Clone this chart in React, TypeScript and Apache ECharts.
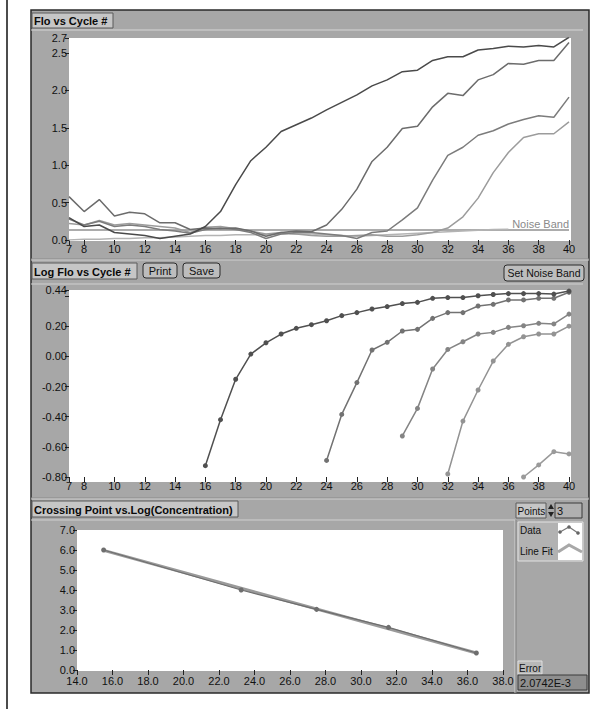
import React, { useEffect, useRef } from 'react';
import * as echarts from 'echarts';

// ---------- DATA ----------
const cycles = [7, 8, 9, 10, 11, 12, 13, 14, 15, 16, 17, 18, 19, 20, 21, 22, 23, 24, 25, 26, 27, 28, 29, 30, 31, 32, 33, 34, 35, 36, 37, 38, 39, 40];
const cycleTicks = [7, 8, 10, 12, 14, 16, 18, 20, 22, 24, 26, 28, 30, 32, 34, 36, 38, 40];
const floTicks = [0, 0.5, 1.0, 1.5, 2.0, 2.5, 2.7];
const logTicks = [-0.8, -0.6, -0.4, -0.2, 0, 0.2, 0.4, 0.44];
const logTickLabels = [-0.8, -0.6, -0.4, -0.2, 0, 0.2, 0.44];

const floA = [0.30, 0.18, 0.20, 0.10, 0.08, 0.06, 0.02, 0.05, 0.08, 0.18, 0.38, 0.74, 1.06, 1.24, 1.45, 1.54, 1.63, 1.74, 1.84, 1.94, 2.06, 2.14, 2.25, 2.27, 2.40, 2.45, 2.45, 2.54, 2.56, 2.59, 2.58, 2.60, 2.58, 2.71];
const floB = [0.58, 0.38, 0.54, 0.32, 0.37, 0.35, 0.23, 0.23, 0.14, 0.16, 0.15, 0.16, 0.12, 0.05, 0.10, 0.12, 0.11, 0.20, 0.41, 0.68, 1.05, 1.24, 1.49, 1.52, 1.78, 1.96, 1.93, 2.14, 2.21, 2.36, 2.35, 2.40, 2.40, 2.64];
const floC = [0.28, 0.20, 0.25, 0.18, 0.20, 0.18, 0.14, 0.12, 0.09, 0.14, 0.16, 0.14, 0.10, 0.02, 0.08, 0.10, 0.10, 0.08, 0.06, 0.02, 0.10, 0.12, 0.27, 0.43, 0.80, 1.13, 1.24, 1.40, 1.46, 1.55, 1.61, 1.66, 1.64, 1.91];
const floD = [0.22, 0.20, 0.26, 0.20, 0.22, 0.20, 0.18, 0.16, 0.10, 0.17, 0.18, 0.15, 0.12, 0.08, 0.10, 0.08, 0.06, 0.05, 0.05, 0.06, 0.07, 0.05, 0.05, 0.07, 0.10, 0.16, 0.31, 0.56, 0.90, 1.17, 1.37, 1.42, 1.42, 1.58];
const floE = [0.00, 0.01, 0.01, 0.02, 0.02, 0.03, 0.03, 0.04, 0.05, 0.06, 0.06, 0.07, 0.07, 0.07, 0.08, 0.08, 0.08, 0.07, 0.06, 0.05, 0.06, 0.07, 0.08, 0.09, 0.10, 0.11, 0.12, 0.13, 0.14, 0.145, null, null, null, null];
const noiseBand = 0.145;

const log1Start = 16;
const log1 = [-0.725, -0.42, -0.152, 0.015, 0.09, 0.148, 0.186, 0.21, 0.236, 0.27, 0.29, 0.314, 0.33, 0.35, 0.358, 0.385, 0.39, 0.39, 0.402, 0.41, 0.416, 0.416, 0.416, 0.413, 0.433];
const log2Start = 24;
const log2 = [-0.69, -0.385, -0.174, 0.042, 0.093, 0.168, 0.179, 0.252, 0.29, 0.29, 0.334, 0.345, 0.374, 0.374, 0.385, 0.385, 0.425];
const log3Start = 29;
const log3 = [-0.528, -0.345, -0.084, 0.046, 0.097, 0.148, 0.159, 0.192, 0.203, 0.219, 0.215, 0.28];
const log4Start = 32;
const log4 = [-0.78, -0.429, -0.223, -0.031, 0.08, 0.13, 0.148, 0.148, 0.2];
const log5Start = 37;
const log5 = [-0.80, -0.72, -0.632, -0.647];

const crossPoints = [15.5, 23.25, 27.5, 31.55, 36.5];
const logConc = [6.0, 4.0, 3.03, 2.13, 0.85];
const fitX = [15.5, 36.5];
const fitY = [5.98, 0.85];

const errorValue = '2.0742E-3';
const pointsValue = '3';

// ---------- CHART ----------
const FONT = '"Liberation Sans", Arial, sans-serif';

function pairs(start: number, vals: number[]) {
  return vals.map((v, i) => [start + i, v]);
}

function btn(x: number, y: number, w: number, h: number, label: string, size = 11, r = 3) {
  return [
    { type: 'rect', z: -50, shape: { x, y, width: w, height: h, r }, style: { fill: '#bdbdbd', stroke: '#2a2a2a', lineWidth: 1 } },
    { type: 'text', z: -40, x: x + w / 2, y: y + h / 2, style: { text: label, fill: '#111', font: `${size}px ${FONT}`, align: 'center', verticalAlign: 'middle' } },
  ];
}

function titleBox(x: number, y: number, w: number, h: number, label: string) {
  return [
    { type: 'rect', z: -50, shape: { x, y, width: w, height: h }, style: { fill: '#c6c6c6', stroke: '#5a5a5a', lineWidth: 1 } },
    { type: 'text', z: -40, x: x + 2, y: y + h / 2 + 0.5, style: { text: label, fill: '#0a0a0a', font: `bold 11px ${FONT}`, verticalAlign: 'middle' } },
  ];
}

export default function App() {
  const ref = useRef<HTMLDivElement>(null);
  useEffect(() => {
    if (!ref.current) return;
    const chart = echarts.init(ref.current, undefined, { renderer: 'svg' });

    const axisLabelBase = { color: '#111', fontSize: 11, fontFamily: FONT };
    const tick = { show: true, inside: false, length: 4, lineStyle: { color: '#222', width: 1 } };

    const cycleAxis = (gridIndex: number) => ({
      type: 'value', gridIndex, min: 7, max: 40,
      axisLine: { show: false, onZero: false },
      axisTick: { ...tick, length: 5, customValues: cycleTicks },
      splitLine: { show: false },
      axisLabel: { ...axisLabelBase, margin: 3, customValues: cycleTicks, formatter: (v: number) => String(v) },
    });

    const graphic: any[] = [
      { type: 'line', z: -100, shape: { x1: 7, y1: 0, x2: 7, y2: 709 }, style: { stroke: '#111', lineWidth: 1.5 } },
      { type: 'rect', z: -100, shape: { x: 31, y: 10, width: 558, height: 683 }, style: { fill: '#a7a7a7', stroke: '#2a2a2a', lineWidth: 1.5 } },
      { type: 'line', z: -95, shape: { x1: 31, y1: 30, x2: 583, y2: 30 }, style: { stroke: '#d6d6d6', lineWidth: 1 } },
      { type: 'line', z: -95, shape: { x1: 31, y1: 259, x2: 589, y2: 259 }, style: { stroke: '#8a8a8a', lineWidth: 1 } },
      { type: 'line', z: -95, shape: { x1: 31, y1: 260, x2: 589, y2: 260 }, style: { stroke: '#d0d0d0', lineWidth: 1 } },
      { type: 'line', z: -95, shape: { x1: 31, y1: 284, x2: 583, y2: 284 }, style: { stroke: '#d0d0d0', lineWidth: 1 } },
      { type: 'line', z: -95, shape: { x1: 31, y1: 498, x2: 589, y2: 498 }, style: { stroke: '#8a8a8a', lineWidth: 1 } },
      { type: 'line', z: -95, shape: { x1: 31, y1: 499, x2: 589, y2: 499 }, style: { stroke: '#d0d0d0', lineWidth: 1 } },
      { type: 'line', z: -95, shape: { x1: 31, y1: 520, x2: 515, y2: 520 }, style: { stroke: '#d0d0d0', lineWidth: 1 } },
      { type: 'line', z: -95, shape: { x1: 515, y1: 520, x2: 515, y2: 693 }, style: { stroke: '#d0d0d0', lineWidth: 1 } },
      { type: 'line', z: -95, shape: { x1: 516, y1: 520, x2: 516, y2: 693 }, style: { stroke: '#808080', lineWidth: 1 } },
      // plot areas
      { type: 'rect', z: -90, shape: { x: 69, y: 38, width: 502, height: 203 }, style: { fill: '#ffffff' } },
      { type: 'rect', z: -90, shape: { x: 69, y: 290, width: 502, height: 192 }, style: { fill: '#ffffff' } },
      { type: 'rect', z: -90, shape: { x: 77, y: 530, width: 426, height: 141 }, style: { fill: '#ffffff' } },
      ...titleBox(32, 13, 81, 15, 'Flo vs Cycle #'),
      ...titleBox(32, 263, 105, 16, 'Log Flo vs Cycle #'),
      ...titleBox(32, 501, 206, 16, 'Crossing Point vs.Log(Concentration)'),
      ...btn(143, 263, 34, 15, 'Print'),
      ...btn(183, 263, 37, 15, 'Save'),
      ...btn(504, 265, 80, 16, 'Set Noise Band', 10.5),
      // Points control
      { type: 'rect', z: -50, shape: { x: 516, y: 503, width: 30, height: 15 }, style: { fill: '#c6c6c6', stroke: '#5a5a5a', lineWidth: 1 } },
      { type: 'text', z: -40, x: 517.5, y: 511, style: { text: 'Points', fill: '#111', font: `10px ${FONT}`, verticalAlign: 'middle' } },
      { type: 'polygon', z: -40, shape: { points: [[548, 509], [551, 504], [554, 509]] }, style: { fill: '#222' } },
      { type: 'polygon', z: -40, shape: { points: [[548, 512], [551, 517], [554, 512]] }, style: { fill: '#222' } },
      { type: 'rect', z: -50, shape: { x: 555, y: 503, width: 27, height: 15 }, style: { fill: '#b0b0b0', stroke: '#3a3a3a', lineWidth: 1 } },
      { type: 'text', z: -40, x: 557, y: 511, style: { text: pointsValue, fill: '#111', font: `11px ${FONT}`, verticalAlign: 'middle' } },
      // legend
      { type: 'rect', z: -50, shape: { x: 518, y: 522, width: 65, height: 39 }, style: { fill: '#b2b2b2', stroke: '#e2e2e2', lineWidth: 1 } },
      { type: 'text', z: -40, x: 520, y: 530, style: { text: 'Data', fill: '#111', font: `10px ${FONT}`, verticalAlign: 'middle' } },
      { type: 'text', z: -40, x: 520, y: 551, style: { text: 'Line Fit', fill: '#111', font: `10px ${FONT}`, verticalAlign: 'middle' } },
      { type: 'rect', z: -45, shape: { x: 558, y: 523, width: 24, height: 37 }, style: { fill: '#ffffff' } },
      { type: 'polyline', z: -40, shape: { points: [[560, 532], [569, 527], [578, 533]] }, style: { stroke: '#777', lineWidth: 1.2, fill: null } },
      { type: 'circle', z: -39, shape: { cx: 560, cy: 532, r: 1.8 }, style: { fill: '#666' } },
      { type: 'circle', z: -39, shape: { cx: 569, cy: 527, r: 1.8 }, style: { fill: '#666' } },
      { type: 'circle', z: -39, shape: { cx: 578, cy: 533, r: 1.8 }, style: { fill: '#666' } },
      { type: 'polyline', z: -40, shape: { points: [[558, 552], [569, 545], [582, 552]] }, style: { stroke: '#a8a8a8', lineWidth: 3, fill: null } },
      // error
      { type: 'rect', z: -50, shape: { x: 518, y: 661, width: 24, height: 13 }, style: { fill: '#b8b8b8', stroke: '#e0e0e0', lineWidth: 1 } },
      { type: 'text', z: -40, x: 519, y: 668, style: { text: 'Error', fill: '#111', font: `10px ${FONT}`, verticalAlign: 'middle' } },
      { type: 'rect', z: -50, shape: { x: 518, y: 675, width: 69, height: 15 }, style: { fill: '#8e8e8e', stroke: '#3a3a3a', lineWidth: 1 } },
      { type: 'text', z: -40, x: 520, y: 683, style: { text: errorValue, fill: '#111', font: `11px ${FONT}`, verticalAlign: 'middle' } },
    ];

    const floColors = ['#4a4a4a', '#6c6c6c', '#7c7c7c', '#9c9c9c', '#b4b4b4'];
    const floSeries = [floA, floB, floC, floD, floE].map((arr, k) => ({
      type: 'line', xAxisIndex: 0, yAxisIndex: 0, z: 5 - k,
      data: cycles.map((c, i) => [c, arr[i]]),
      symbol: 'none', lineStyle: { color: floColors[k], width: 1.5 }, itemStyle: { color: floColors[k] },
      ...(k === 0 ? {
        markLine: {
          symbol: 'none', silent: true, z: 1,
          lineStyle: { color: '#acacac', width: 2, type: 'solid' },
          label: { position: 'insideEndTop', formatter: 'Noise Band', color: '#8a8a8a', fontSize: 11, fontFamily: FONT, distance: [0, 0] },
          data: [{ yAxis: noiseBand }],
        },
      } : {}),
    }));

    const logColors = ['#505050', '#727272', '#848484', '#939393', '#9a9a9a'];
    const logSeries = [
      pairs(log1Start, log1), pairs(log2Start, log2), pairs(log3Start, log3), pairs(log4Start, log4), pairs(log5Start, log5),
    ].map((d, k) => ({
      type: 'line', xAxisIndex: 1, yAxisIndex: 1, data: d, z: 6 - k,
      symbol: 'circle', symbolSize: 5,
      lineStyle: { color: logColors[k], width: 1.5 }, itemStyle: { color: logColors[k] },
    }));

    chart.setOption({
      animation: false,
      backgroundColor: '#ffffff',
      textStyle: { fontFamily: FONT },
      graphic,
      grid: [
        { left: 69, top: 38, width: 500, height: 202, show: false },
        { left: 69, top: 290, width: 500, height: 187, show: false },
        { left: 77, top: 530, width: 426, height: 140, show: false },
      ],
      xAxis: [
        cycleAxis(0),
        cycleAxis(1),
        {
          type: 'value', gridIndex: 2, min: 14, max: 38, interval: 2,
          axisLine: { show: false, onZero: false }, axisTick: { ...tick, length: 5 }, splitLine: { show: false },
          axisLabel: { ...axisLabelBase, margin: 5, formatter: (v: number) => v.toFixed(1) },
        },
      ],
      yAxis: [
        {
          type: 'value', gridIndex: 0, min: 0, max: 2.7,
          axisLine: { show: false, onZero: false },
          axisTick: { ...tick, customValues: floTicks }, splitLine: { show: false },
          axisLabel: { ...axisLabelBase, margin: 2, customValues: floTicks, formatter: (v: number) => v.toFixed(1) },
        },
        {
          type: 'value', gridIndex: 1, min: -0.8, max: 0.44,
          axisLine: { show: false, onZero: false },
          axisTick: { ...tick, customValues: logTicks }, splitLine: { show: false },
          axisLabel: { ...axisLabelBase, margin: 2, customValues: logTickLabels, formatter: (v: number) => v.toFixed(2) },
        },
        {
          type: 'value', gridIndex: 2, min: 0, max: 7, interval: 1,
          axisLine: { show: false, onZero: false }, axisTick: tick, splitLine: { show: false },
          axisLabel: { ...axisLabelBase, margin: 2, formatter: (v: number) => v.toFixed(1) },
        },
      ],
      series: [
        ...floSeries,
        ...logSeries,
        {
          type: 'line', xAxisIndex: 2, yAxisIndex: 2, z: 2,
          data: fitX.map((x, i) => [x, fitY[i]]),
          symbol: 'none', lineStyle: { color: '#9a9a9a', width: 3 },
        },
        {
          type: 'line', xAxisIndex: 2, yAxisIndex: 2, z: 3,
          data: crossPoints.map((x, i) => [x, logConc[i]]),
          symbol: 'circle', symbolSize: 5,
          lineStyle: { color: '#6e6e6e', width: 1.2 }, itemStyle: { color: '#6e6e6e' },
        },
      ],
    });
    return () => chart.dispose();
  }, []);
  return <div ref={ref} style={{ position: 'absolute', left: 0, top: 0, width: 609, height: 709 }} />;
}
